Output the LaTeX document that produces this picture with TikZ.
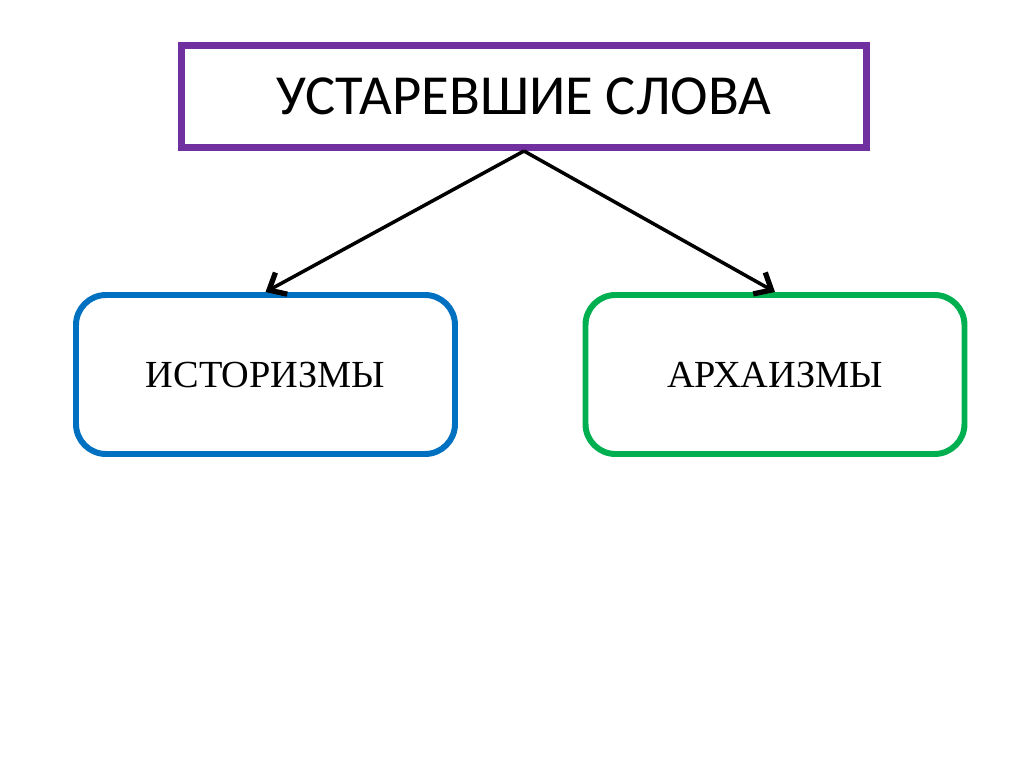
\documentclass[tikz,border=0pt]{standalone}
\usepackage{fontspec}
\setmainfont{Carlito}
\newfontfamily\wordfont{Liberation Serif}
\usetikzlibrary{arrows.meta}
\definecolor{boxpurple}{HTML}{7030A0}
\definecolor{boxblue}{HTML}{0070C0}
\definecolor{boxgreen}{HTML}{00B050}

\tikzset{
  mainbox/.style={draw=boxpurple, line width=2pt, minimum width=6.85cm, minimum height=1.02cm, font=\fontsize{16.1}{19}\selectfont},
  kindbox/.style={line width=1.7pt, rounded corners=0.3cm, minimum width=3.79cm, minimum height=1.59cm, font=\wordfont\fontsize{10.9}{13}\selectfont},
  link/.style={line width=1pt, -{Straight Barb[length=4pt,width=7pt,line width=1.5pt]}}
}

\begin{document}
\begin{tikzpicture}
\useasboundingbox (0,0) rectangle (10.24,7.67);

\node [mainbox] (words) at (5.24,6.705) {УСТАРЕВШИЕ СЛОВА};

\node [kindbox, draw=boxblue] (hist) at (2.655,3.925) {\raisebox{-0.05cm}{ИСТОРИЗМЫ}};
\node [kindbox, draw=boxgreen] (arch) at (7.75,3.925) {\raisebox{-0.05cm}{АРХАИЗМЫ}};

\draw [link] (words.south) -- (hist.north);
\draw [link] (words.south) -- (arch.north);

\end{tikzpicture}
\end{document}
